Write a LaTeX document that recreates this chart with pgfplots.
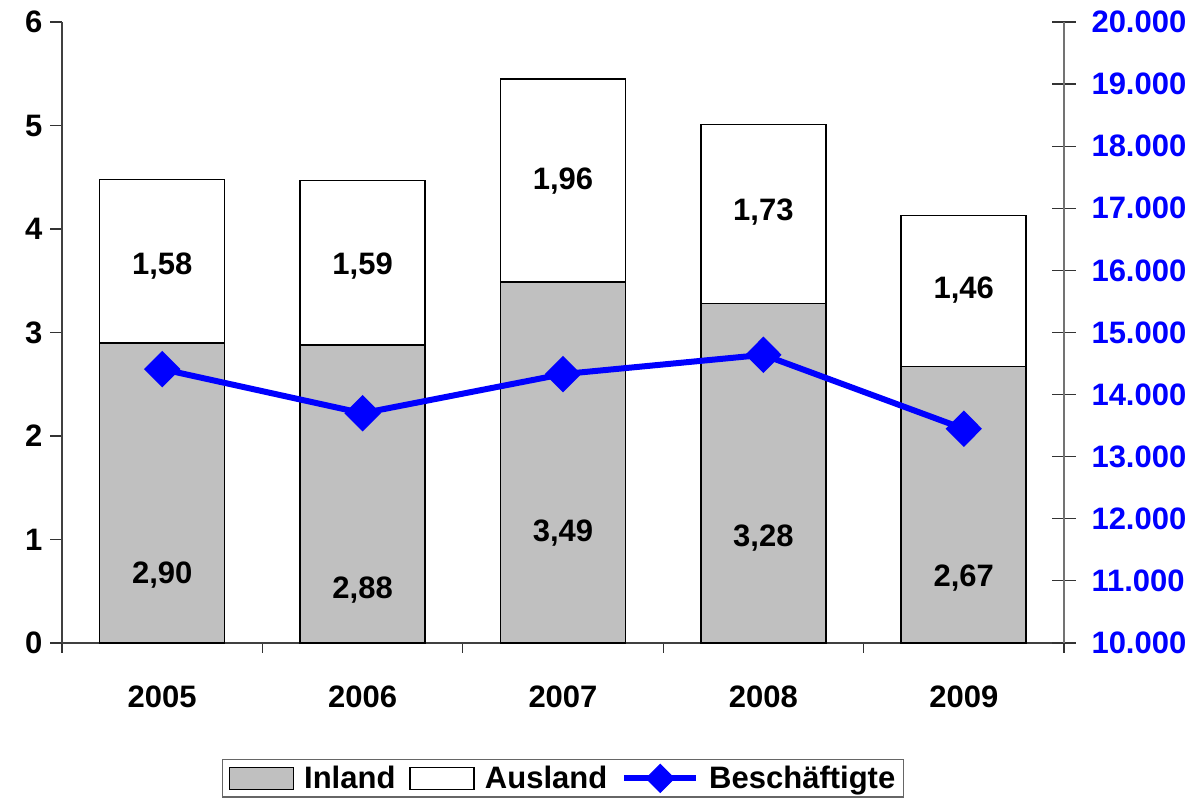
\documentclass[border=0pt]{standalone}
\usepackage{fontspec}
\setmainfont{Liberation Sans}
\usepackage{pgfplots}
\pgfplotsset{compat=1.18}
\definecolor{bargray}{RGB}{192,192,192}
\newcommand\f{\fontsize{31}{37}\selectfont\bfseries}
\pgfplotstableread{
x y lab
0 0.657 {2,90}
1 0.51 {2,88}
2 1.06 {3,49}
3 1.01 {3,28}
4 0.63 {2,67}
0 3.64 {1,58}
1 3.64 {1,59}
2 4.46 {1,96}
3 4.16 {1,73}
4 3.41 {1,46}
}\labels
\begin{document}
\begin{tikzpicture}[x=1pt,y=1pt]
\useasboundingbox (0,0) rectangle (1194,802);
\begin{axis}[
  at={(62pt,159pt)}, anchor=south west,
  scale only axis, width=1002pt, height=621pt,
  xmin=-0.5, xmax=4.5, ymin=0, ymax=6,
  axis x line*=bottom, axis y line*=left,
  axis line style={black!75, line width=1.3pt},
  ybar stacked, bar width=125pt,
  xtick={0,...,4}, xticklabels={2005,2006,2007,2008,2009},
  major x tick style={draw=none},
  minor xtick={-0.5,0.5,...,4.5},
  ytick={0,...,6},
  tick align=outside, major tick length=12pt, minor tick length=10pt,
  every tick/.style={black!80, line width=1.2pt},
  tick label style={font=\f},
  /pgf/number format/assume math mode=true,
  xticklabel style={yshift=-27pt},
  yticklabel style={xshift=-4pt},
  clip=false,
  legend style={at={(0.5,-0.218)}, anchor=center, legend columns=3,
    draw=black!60, line width=1.2pt, font=\f, inner xsep=6pt, inner ysep=4pt,
    /tikz/every even column/.style={column sep=12pt},
    /tikz/every odd column/.style={column sep=8pt}},
  legend cell align=left,
]
\addplot[fill=bargray, draw=black, line width=1.6pt,
  legend image code/.code={\draw[fill=bargray,draw=black,line width=1.5pt] (0pt,-11pt) rectangle (64pt,11pt);}]
  coordinates {(0,2.90)(1,2.88)(2,3.49)(3,3.28)(4,2.67)};
\addplot[fill=white, draw=black, line width=1.6pt,
  legend image code/.code={\draw[fill=white,draw=black,line width=1.5pt] (0pt,-11pt) rectangle (64pt,11pt);}]
  coordinates {(0,1.58)(1,1.59)(2,1.96)(3,1.73)(4,1.46)};
\addlegendimage{legend image code/.code={\draw[blue,line width=6pt] (0pt,0pt) -- (72pt,0pt);
   \fill[blue] (36pt,14pt) -- (50pt,0pt) -- (36pt,-14pt) -- (22pt,0pt) -- cycle;}}
\legend{Inland,Ausland,Beschäftigte}
\end{axis}
\begin{axis}[
  at={(62pt,159pt)}, anchor=south west,
  scale only axis, width=1002pt, height=621pt,
  xmin=-0.5, xmax=4.5, ymin=0, ymax=6,
  hide axis, clip=false,
]
\addplot[only marks, mark=none, nodes near coords, point meta=explicit symbolic,
  nodes near coords align=center, every node near coord/.append style={font=\f, text=black, anchor=center}]
  table[x=x, y=y, meta=lab] {\labels};
\end{axis}
\begin{axis}[
  at={(62pt,159pt)}, anchor=south west,
  scale only axis, width=1002pt, height=621pt,
  xmin=-0.5, xmax=4.5, ymin=10000, ymax=20000,
  axis x line=none, axis y line*=right,
  axis line style={black!55, line width=1.3pt},
  ytick={10000,11000,...,20000},
  scaled y ticks=false,
  tick align=center, major tick length=24pt,
  every tick/.style={black!80, line width=1.2pt},
  tick label style={font=\f, text=blue},
  /pgf/number format/fixed,
  /pgf/number format/1000 sep={.},
  /pgf/number format/assume math mode=true,
  yticklabel style={xshift=12pt},
  clip=false,
]
\addplot[blue, line width=6pt, mark=diamond*, mark size=14pt, mark options={xscale=1.33, solid}]
  coordinates {(0,14410)(1,13700)(2,14330)(3,14640)(4,13450)};
\end{axis}
\end{tikzpicture}
\end{document}
